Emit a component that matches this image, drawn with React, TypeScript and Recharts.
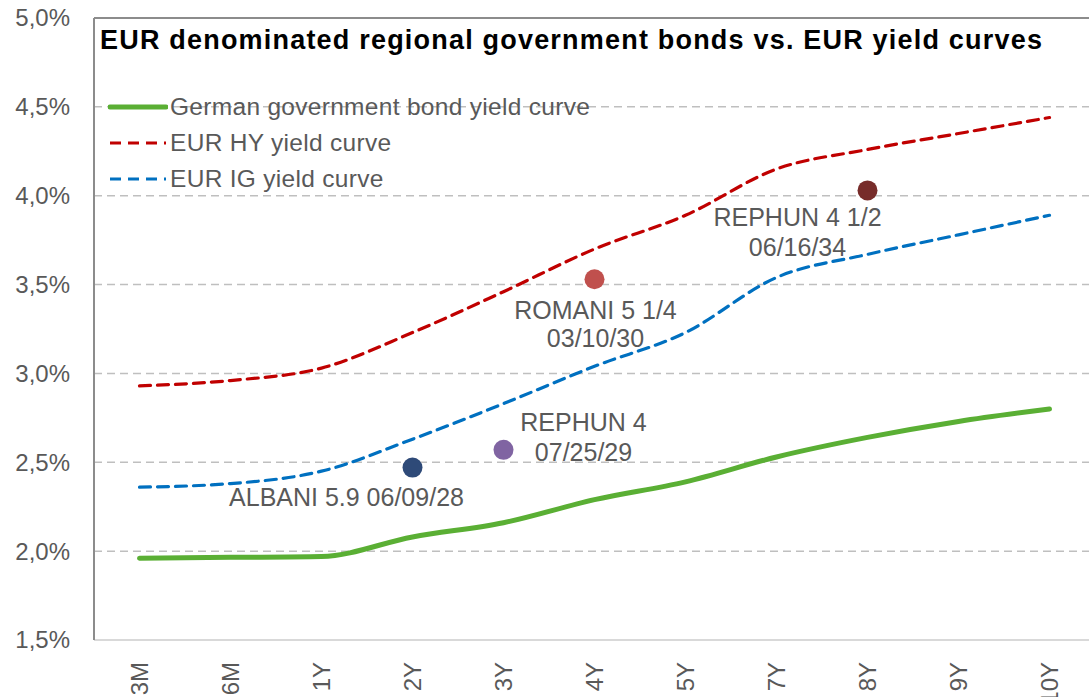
import React from 'react';
import {
  ComposedChart,
  Line,
  XAxis,
  YAxis,
  CartesianGrid,
  ReferenceLine,
} from 'recharts';

// tenors on the x axis
const tenors = ['3M', '6M', '1Y', '2Y', '3Y', '4Y', '5Y', '7Y', '8Y', '9Y', '10Y'];

// yield curves (%)
const germanYields = [1.96, 1.965, 1.97, 2.08, 2.16, 2.29, 2.39, 2.53, 2.64, 2.73, 2.8];
const hyYields = [2.93, 2.96, 3.03, 3.23, 3.46, 3.7, 3.89, 4.15, 4.26, 4.35, 4.44];
const igYields = [2.36, 2.38, 2.45, 2.63, 2.83, 3.04, 3.23, 3.54, 3.67, 3.78, 3.89];

// individual bonds
const bondTenors = ['2Y', '3Y', '4Y', '8Y'];
const bondYields = [2.47, 2.57, 3.53, 4.03];
const bondLabels = [
  ['ALBANI 5.9 06/09/28'],
  ['REPHUN 4', '07/25/29'],
  ['ROMANI 5 1/4', '03/10/30'],
  ['REPHUN 4 1/2', '06/16/34'],
];

const yTicks = [1.5, 2, 2.5, 3, 3.5, 4, 4.5, 5];

const FONT = '"Liberation Sans", Arial, sans-serif';
const TEXT = '#595959';

const series = [
  { key: 'german', name: 'German government bond yield curve', color: '#5AAF34', width: 5, dash: undefined },
  { key: 'hy', name: 'EUR HY yield curve', color: '#C00000', width: 3.2, dash: '11 7' },
  { key: 'ig', name: 'EUR IG yield curve', color: '#0070C0', width: 3.2, dash: '11 7' },
];

// look of each bond dot and where its label sits
const bondStyles = [
  { fill: '#2E4A78', dx: [-66], dy: [30] },
  { fill: '#8064A2', dx: [80, 80], dy: [-28, 2] },
  { fill: '#C0504D', dx: [1, 1], dy: [31, 59] },
  { fill: '#772C2A', dx: [-70, -70], dy: [27, 57] },
];

const chartData = tenors.map((tenor, i) => {
  const b = bondTenors.indexOf(tenor);
  return {
    tenor,
    german: germanYields[i],
    hy: hyYields[i],
    ig: igYields[i],
    bond: b >= 0 ? bondYields[b] : null,
    bondIdx: b,
  };
});

const fmtPct = (v: number) => v.toFixed(1).replace('.', ',') + '%';

const YTick = (props: any) => {
  const { x, y, payload } = props;
  return (
    <text x={x} y={y} dy="0.35em" textAnchor="end" fill={TEXT} fontSize={24} fontFamily={FONT}>
      {fmtPct(payload.value)}
    </text>
  );
};

const XTick = (props: any) => {
  const { x, y, payload } = props;
  return (
    <text
      x={x}
      y={y + 14}
      dy="0.36em"
      textAnchor="end"
      transform={`rotate(-90, ${x}, ${y + 14})`}
      fill={TEXT}
      fontSize={24}
      fontFamily={FONT}
    >
      {payload.value}
    </text>
  );
};

const BondDot = (props: any) => {
  const { cx, cy, payload } = props;
  if (payload.bond == null || cy == null) return <g key={payload.tenor} />;
  const st = bondStyles[payload.bondIdx];
  const lines = bondLabels[payload.bondIdx];
  return (
    <g key={payload.tenor}>
      <circle cx={cx} cy={cy} r={10} fill={st.fill} />
      {lines.map((t, k) => (
        <text
          key={k}
          x={cx + st.dx[k]}
          y={cy + st.dy[k]}
          dy="0.35em"
          textAnchor="middle"
          fill={TEXT}
          fontSize={25}
          fontFamily={FONT}
        >
          {t}
        </text>
      ))}
    </g>
  );
};

const LegendBox = () => (
  <div
    style={{
      position: 'absolute',
      left: 108,
      top: 89,
      fontFamily: FONT,
      fontSize: 24.5,
      letterSpacing: 0.3,
      color: TEXT,
      whiteSpace: 'nowrap',
    }}
  >
    {series.map((s) => (
      <div key={s.key} style={{ display: 'flex', alignItems: 'center', height: 36 }}>
        <svg width={60} height={10} style={{ marginRight: 2 }}>
          <line
            x1={2}
            y1={5}
            x2={58}
            y2={5}
            stroke={s.color}
            strokeWidth={s.width}
            strokeDasharray={s.dash}
            strokeLinecap={s.dash ? 'butt' : 'round'}
          />
        </svg>
        <span>{s.name}</span>
      </div>
    ))}
  </div>
);

const App: React.FC = () => {
  return (
    <div
      style={{
        position: 'absolute',
        left: 0,
        top: 0,
        width: 1089,
        height: 697,
        overflow: 'hidden',
        background: '#fff',
      }}
    >
      <ComposedChart
        width={1095}
        height={697}
        data={chartData}
        margin={{ top: 18, right: 0, bottom: 0, left: 0 }}
      >
        <CartesianGrid
          vertical={false}
          horizontalValues={[2, 2.5, 3, 3.5, 4, 4.5]}
          stroke="#BFBFBF"
          strokeDasharray="8 5"
          strokeWidth={1.5}
        />
        <ReferenceLine y={5} stroke="#8C8C8C" strokeWidth={2} />
        <XAxis
          dataKey="tenor"
          interval={0}
          height={57}
          padding={{ left: 45.5, right: 45.5 }}
          tick={<XTick />}
          tickLine={false}
          axisLine={{ stroke: '#D9D9D9', strokeWidth: 2 }}
        />
        <YAxis
          type="number"
          domain={[1.5, 5]}
          ticks={yTicks}
          width={94}
          tick={<YTick />}
          tickLine={false}
          tickSize={6}
          tickMargin={18}
          axisLine={{ stroke: '#8C8C8C', strokeWidth: 2 }}
        />
        {series.map((s) => (
          <Line
            key={s.key}
            dataKey={s.key}
            name={s.name}
            type="monotone"
            stroke={s.color}
            strokeWidth={s.width}
            strokeDasharray={s.dash}
            strokeLinecap="round"
            dot={false}
            activeDot={false}
            isAnimationActive={false}
          />
        ))}
        <Line
          dataKey="bond"
          name="Bonds"
          stroke="none"
          dot={<BondDot />}
          activeDot={false}
          legendType="none"
          isAnimationActive={false}
        />
      </ComposedChart>
      <LegendBox />
      <div
        style={{
          position: 'absolute',
          left: 100,
          top: 25,
          fontFamily: FONT,
          fontWeight: 'bold',
          fontSize: 27,
          letterSpacing: 1.2,
          color: '#000',
          whiteSpace: 'nowrap',
        }}
      >
        EUR denominated regional government bonds vs. EUR yield curves
      </div>
    </div>
  );
};

export default App;
